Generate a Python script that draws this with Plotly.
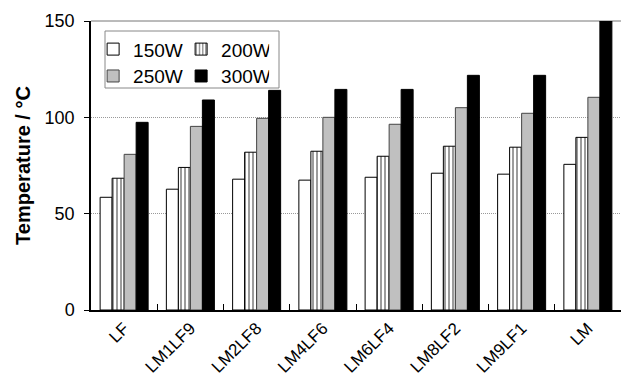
import plotly.graph_objects as go

categories = ["LF", "LM1LF9", "LM2LF8", "LM4LF6", "LM6LF4", "LM8LF2", "LM9LF1", "LM"]
w150 = [58.5, 62.7, 67.9, 67.4, 68.9, 71.0, 70.5, 75.6]
w200 = [68.4, 74.0, 81.9, 82.4, 79.8, 85.0, 84.5, 89.6]
w250 = [80.8, 95.3, 99.5, 100.0, 96.4, 105.0, 102.1, 110.4]
w300 = [97.4, 109.0, 114.0, 114.5, 114.5, 121.8, 121.8, 150.0]

fig = go.Figure()
fig.add_trace(go.Bar(x=categories, y=w150, name="150W", legend="legend",
                     marker=dict(color="white", line=dict(color="black", width=1))))
fig.add_trace(go.Bar(x=categories, y=w200, name="200W", legend="legend",
                     marker=dict(color="white", line=dict(color="black", width=1),
                                 pattern=dict(shape="|", fgcolor="#222", bgcolor="white",
                                              size=4, solidity=0.45))))
fig.add_trace(go.Bar(x=categories, y=w250, name="250W", legend="legend2",
                     marker=dict(color="#c0c0c0", line=dict(color="#444", width=1))))
fig.add_trace(go.Bar(x=categories, y=w300, name="300W", legend="legend2",
                     marker=dict(color="black", line=dict(color="black", width=1))))

font = "Arial, Liberation Sans, sans-serif"
legend_common = dict(orientation="h", xanchor="left", yanchor="top",
                     font=dict(size=19), entrywidth=43, bgcolor="rgba(0,0,0,0)",
                     itemclick=False, tracegroupgap=0)
fig.update_layout(
    width=621, height=383,
    margin=dict(l=91, r=0, t=21, b=73),
    plot_bgcolor="white", paper_bgcolor="white",
    barmode="group", bargap=0.275, bargroupgap=0,
    font=dict(family=font, color="black", size=16),
    legend=dict(x=0.004, y=0.968, **legend_common),
    legend2=dict(x=0.004, y=0.875, **legend_common),
    shapes=[dict(type="rect", xref="paper", yref="paper",
                 x0=(105 - 91) / 530, x1=(279 - 91) / 530,
                 y0=(310 - 88) / 289, y1=(310 - 31) / 289,
                 line=dict(color="#888", width=1), fillcolor="rgba(0,0,0,0)"),
            dict(type="line", xref="paper", yref="paper", x0=0, x1=1, y0=1, y1=1,
                 line=dict(color="#777", width=1), layer="below")],
)
fig.update_xaxes(showline=True, linecolor="black", linewidth=1.5,
                 ticks="inside", tickson="boundaries", ticklen=6, tickcolor="black",
                 tickangle=-45, tickfont=dict(size=17), showgrid=False)
fig.update_yaxes(range=[0, 150], dtick=50, showline=True, linecolor="black", linewidth=1.5,
                 ticks="outside", ticklen=5, tickcolor="black",
                 showgrid=True, gridcolor="#999", griddash="1px,1px", gridwidth=1,
                 tickfont=dict(size=18), ticklabelstandoff=6,
                 title=dict(text="<b>Temperature / °C</b>", font=dict(size=20), standoff=9),
                 zeroline=False)
fig.write_html("out.html")
